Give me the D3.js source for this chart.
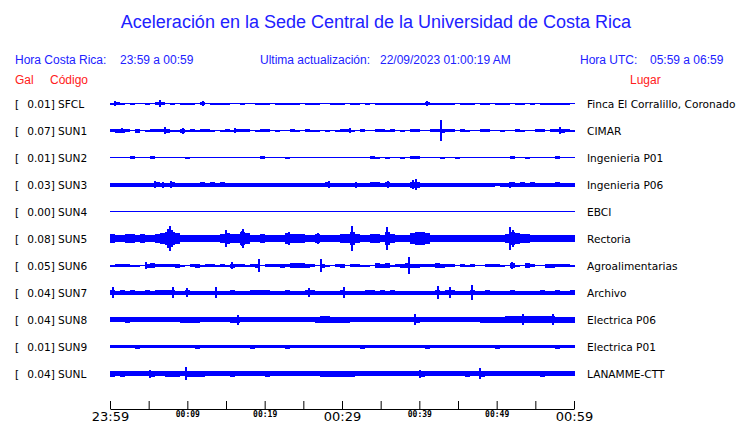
<!DOCTYPE html>
<html><head><meta charset="utf-8">
<script src="https://cdn.jsdelivr.net/npm/d3@7"></script>
<style>
html,body{margin:0;padding:0;background:#fff;}
svg{display:block;}
</style></head>
<body>
<svg id="chart" width="740" height="423"></svg>
<script>
// ---------- DATA ----------
const titleText = "Aceleración en la Sede Central de la Universidad de Costa Rica";
const codes = ["SFCL","SUN1","SUN2","SUN3","SUN4","SUN5","SUN6","SUN7","SUN8","SUN9","SUNL"];
const galValues = [0.01,0.07,0.01,0.03,0.00,0.08,0.05,0.04,0.04,0.01,0.04];
const places = ["Finca El Corralillo, Coronado","CIMAR","Ingenieria P01","Ingenieria P06","EBCI","Rectoria","Agroalimentarias","Archivo","Electrica P06","Electrica P01","LANAMME-CTT"];
const tickMinutes = [0,5,10,15,20,25,30,35,40,45,50,55,60];
const tickLabels = {0:"23:59",10:"00:09",20:"00:19",30:"00:29",40:"00:39",50:"00:49",60:"00:59"};
const majorLabels = [0,30,60];

// envelope amplitudes (half peak-to-peak) of the continuous signal, 93 slots over the hour
const ampSFCL = [0.5,1,0.5,0,0.5,0,0,0.5,0,1, 1,0,0.5,0,0.5,0.5,0.5,0,1,0, 0.5,0.5,0.5,0.5,0,0,0.5,0,0,0.5, 0.5,0.5,0,0.5,0.5,0.5,0.5,0.5,0,0.5, 0.5,0.5,0,0,0.5,0.5,0.5,0,0.5,0.5, 0,0.5,0,0.5,0.5,0.5,0.5,0.5,0.5,0.5, 0.5,0.5,0.5,1,0.5,0.5,0.5,0.5,0.5,0, 0.5,0.5,0.5,0,0.5,0.5,0,0.5,0.5,0.5, 0,0.5,0.5,0,0.5,0,0.5,0.5,0.5,0.5, 0.5,0.5,0];
const ampSUN1 = [1,1.5,1.5,1,0,1.5,0,0.5,1,1, 1,1.5,0.5,0.5,1.5,0.5,1,0.5,1,1, 0.5,0,0.5,1,0.5,1,1,1,0,0.5, 1,1,0,0.5,0,0,1,0.5,0,1, 0.5,0.5,0,0.5,0,0.5,1,1,0.5,0, 1,0,0,1,1,0.5,1,0,0.5,0, 1,1,0,0,1,1,1.5,1,1,0, 1,0.5,0,0,1,1,0,0,0.5,0, 0,1,0.5,0,0,1,1,0,1,1, 1.5,1,0.5];
const ampSUN2 = [0,0,0,0,1,0,0,0,1,0, 0,0,0,0,0,0.5,0,0,0,0, 0,0,0,0,0,0,0,0,0,0, 1,0,0,0,0,0.5,0,0,0,0, 0,0,0,0,0,0,0,0,0,0, 0,0,1,0.5,0,0.5,0,0,0.5,0, 1,1,0,0,0,0,0.5,0,0,0.5, 0,0,0,0,0,0,0,0,0,0, 1,0,0,0.5,0,0,0,0,0,1, 0,0,0];
const ampSUN3 = [1.5,1.5,1.5,1.5,1.5,1.5,1.5,1.5,1.5,2, 1.5,1.5,2,1.5,1.5,1.5,1.5,1.5,2,1.5, 2,1.5,2,1.5,1.5,1.5,1.5,1.5,1.5,1.5, 1.5,1.5,1.5,1.5,1.5,1.5,1.5,1.5,1.5,1.5, 1.5,1.5,1.5,2,1.5,1.5,1.5,1.5,1.5,1.5, 1.5,1.5,2,2,1.5,2,1.5,1.5,1.5,1.5, 2.5,2.5,1.5,1.5,1.5,1.5,1.5,1.5,1.5,1.5, 1.5,1.5,1.5,1.5,1.5,1.5,1.5,1,1.5,1.5, 2,1.5,2,1.5,2,1.5,1.5,1.5,1.5,2, 1.5,1.5,1.5];
const ampSUN4 = [0,0,0,0,0,0,0,0,0,0, 0,0,0,0,0,0,0,0,0,0, 0,0,0,0,0,0,0,0,0,0, 0,0,0,0,0,0,0,0,0,0, 0,0,0,0,0,0,0,0,0,0, 0,0,0,0,0,0,0,0,0,0, 0,0,0,0,0,0,0,0,0,0, 0,0,0,0,0,0,0,0,0,0, 0,0,0,0,0,0,0,0,0,0, 0,0,0];
const ampSUN5 = [4,3,3,4,4,3,4,3,3,4, 5,6,6,5,3,3,3,3,3,3, 3,3,4,5,4,4,6,5,3,3, 4,3,3,3,3,5,4,4,4,3, 3,4,3,3,3,3,4,4,6,4, 3,3,4,4,3,6,4,3,3,3, 5,6,6,5,3,3,3,3,3,3, 3,3,3,3,3,3,3,3,3,4, 6,5,4,4,3,3,3,3,3,3, 3,3,3];
const ampSUN6 = [0.5,1,1,1,0.5,0.5,0,1.5,2,1, 1,1,1,1.5,0.5,0,1,1.5,0.5,1, 1,0.5,1,0.5,1.5,1,1,0.5,1,1.5, 0,1,1,1,1.5,1,2,2,2,1.5, 1,0,1.5,0.5,0,1,1.5,0,1,1, 0.5,0.5,0,2,1.5,2,0.5,1,1.5,2, 1.5,1.5,1,1,1,2,1.5,1,1,0, 1,0.5,1,0,0,1,1,1,0.5,0, 2,0.5,0,2,1,0,0,1.5,1.5,1, 1,1,0.5];
const ampSUN7 = [2,1.5,2,1.5,2,1.5,1.5,2,1.5,2, 2,2,2,1.5,1.5,2,1.5,1.5,1.5,1.5, 1.5,1.5,1.5,1.5,2,1.5,1.5,1.5,2,2, 2,2,1.5,1.5,1.5,2,1.5,1.5,1.5,2, 2,1.5,1.5,1.5,1.5,1.5,2,1.5,1.5,1.5, 1.5,2,2,1.5,2,1.5,2,1.5,1.5,1.5, 1.5,1.5,1.5,1.5,1.5,2,1.5,2,2,1.5, 1.5,1.5,2,1.5,1.5,2,1.5,1.5,1.5,1.5, 2,1.5,1.5,1.5,1.5,1.5,2,1.5,1.5,2, 1.5,1.5,2];
const ampSUN8 = [2,2,2,2.5,2,2,2,2,2,2, 2,2,2,2,2.5,2.5,2.5,2.5,2,2, 2,2,2,2,2.5,2.5,2,2,2,2, 2,2,2,2,2,2,2,2,2,2, 2,2.5,3,3,2.5,2.5,2.5,2.5,2,2, 2,2,2,2,2,2,2,2,2,2, 2,2.5,2,2,2,2,2,2,2,2, 2,2,2,2,2.5,2.5,2.5,2.5,2.5,3, 3,3,3,3,3,3,3,3,3,2.5, 2.5,2.5,2.5];
const ampSUN9 = [1,1,1,1,1,1.5,1,1,1,1, 1,1,1,1,1,1,1,1.5,1,1, 1,1,1,1,1,1,1,1,1.5,1, 1,1,1,1,1,1.5,1,1,1,1, 1,1,1,1,1,1,1,1,1,1, 1.5,1,1,1,1,1,1,1,1,1, 1,1,1,1.5,1,1,1,1,1,1, 1,1,1,1,1,1,1,1.5,1,1, 1,1,1,1,1,1,1,1,1,1.5, 1,1,1];
const ampSUNL = [2.5,2,2.5,2,2,2,2,2,2.5,2, 2,2.5,2.5,2.5,2,2.5,2.5,2.5,2.5,2, 2,2,2,2,2.5,2,2,2,2,2, 2,2.5,2,2,2,2,2,2,2,2, 2,2,2.5,2.5,2.5,2.5,2.5,2.5,2.5,2, 2,2,2,2,2,2,2,2,2,2, 2,2,2.5,2,2,2,2,2,2,2, 2,2.5,2,2,2.5,2,2,2,2,2, 2,2,2,2,2,2,2.5,2,2,2, 2,2,2];

// narrow peaks: [minute after 23:59, half peak-to-peak amplitude]
const peaksSFCL = [[0.65,2],[6.45,3],[12.0,2],[40.9,2]];
const peaksSUN1 = [[1.5,2],[7.1,3],[9.4,2.5],[16.1,2],[31.0,2],[42.7,10],[58.1,3]];
const peaksSUN2 = [];
const peaksSUN3 = [[5.8,3],[6.8,2.5],[7.9,3],[28.3,3],[31.7,2.5],[35.9,3],[39.1,4],[39.5,5],[51.6,2.5]];
const peaksSUN4 = [];
const peaksSUN5 = [[7.5,9],[7.7,12],[8.0,8],[15.0,8],[17.0,7],[17.2,9],[23.1,6],[26.8,5],[31.2,12],[35.7,11],[51.6,11],[52.0,8]];
const peaksSUN6 = [[4.6,3],[15.7,3],[19.2,6],[27.2,6],[38.6,8],[51.9,3]];
const peaksSUN7 = [[0.4,5],[8.1,5],[9.9,4],[13.7,5],[25.7,4],[30.2,5],[42.3,6],[43.9,5],[46.7,7]];
const peaksSUN8 = [[16.5,4.5],[39.4,5],[53.3,5],[57.2,5]];
const peaksSUN9 = [];
const peaksSUNL = [[5.2,3.5],[9.8,6],[40.0,3.5],[47.7,5]];

// ---------- CHART ----------
const traces = [ampSFCL,ampSUN1,ampSUN2,ampSUN3,ampSUN4,ampSUN5,ampSUN6,ampSUN7,ampSUN8,ampSUN9,ampSUNL];
const peaks = [peaksSFCL,peaksSUN1,peaksSUN2,peaksSUN3,peaksSUN4,peaksSUN5,peaksSUN6,peaksSUN7,peaksSUN8,peaksSUN9,peaksSUNL];
const stations = codes.map((c,i)=>({code:c, gal:galValues[i], place:places[i], amp:traces[i], peaks:peaks[i]}));

const svg = d3.select("#chart");
const blue = "#2121ff", red = "#ff2020", traceColor = "#0000ff";
const sans = "'Liberation Sans', Arial, sans-serif";
const dv = "'DejaVu Sans', sans-serif";

svg.append("text").attr("x",376).attr("y",28).attr("text-anchor","middle")
  .attr("fill",blue).style("font-family",sans).style("font-size","18px").text(titleText);

const header = [
  {x:15,  y:64, t:"Hora Costa Rica:", c:blue},
  {x:120, y:64, t:"23:59 a 00:59", c:blue},
  {x:260, y:64, t:"Ultima actualización:", c:blue},
  {x:380, y:64, t:"22/09/2023 01:00:19 AM", c:blue},
  {x:580, y:64, t:"Hora UTC:", c:blue},
  {x:650, y:64, t:"05:59 a 06:59", c:blue},
  {x:15,  y:84, t:"Gal", c:red},
  {x:50,  y:84, t:"Código", c:red},
  {x:630, y:84, t:"Lugar", c:red}
];
svg.selectAll("text.hdr").data(header).join("text").attr("class","hdr")
  .attr("x",d=>d.x).attr("y",d=>d.y).attr("fill",d=>d.c)
  .style("font-family",sans).style("font-size","12px").text(d=>d.t);

const x0 = 110, x1 = 575;
const yRow = d3.scalePoint().domain(codes).range([103.5, 373.5]);
const xTrace = d3.scaleLinear().domain([0, 60]).range([x0, x1]);
const yAmp = d3.scaleLinear().domain([0, 1]).range([0, 1]);

const rows = svg.selectAll("g.row").data(stations).join("g").attr("class","row")
  .attr("transform", d=>`translate(0,${yRow(d.code)})`);

const lbl = sel => sel.style("font-family",dv).style("font-size","10.6px").attr("fill","#000");
rows.append("text").attr("x",15).attr("y",4).call(lbl).text("[");
rows.append("text").attr("x",55).attr("y",4).attr("text-anchor","end").call(lbl).text(d=>d.gal.toFixed(2)+"]");
rows.append("text").attr("x",58).attr("y",4).call(lbl).text(d=>d.code);
rows.append("text").attr("x",587).attr("y",4).call(lbl).text(d=>d.place);

rows.append("rect").attr("x",x0).attr("width",x1-x0).attr("y",-0.5).attr("height",1).attr("fill",traceColor);
rows.each(function(d){
  const g = d3.select(this);
  const n = d.amp.length;
  const tOf = i => i*60/n;
  g.selectAll("rect.bin").data(d.amp).join("rect").attr("class","bin")
    .attr("x",(a,i)=>Math.round(xTrace(tOf(i)))).attr("width",(a,i)=>Math.round(xTrace(tOf(i+1)))-Math.round(xTrace(tOf(i))))
    .attr("y",a=>-yAmp(a)-0.5).attr("height",a=>2*yAmp(a)+1)
    .attr("fill",traceColor).attr("shape-rendering","crispEdges");
  g.selectAll("rect.peak").data(d.peaks).join("rect").attr("class","peak")
    .attr("x",p=>Math.round(xTrace(p[0]))-1).attr("width",2)
    .attr("y",p=>-yAmp(p[1])-0.5).attr("height",p=>2*yAmp(p[1])+1)
    .attr("fill",traceColor).attr("shape-rendering","crispEdges");
});

// time axis
const xTime = d3.scaleLinear().domain([0,60]).range([110,574]);
const axis = d3.axisBottom(xTime).tickValues(tickMinutes).tickSizeInner(-8).tickSizeOuter(0)
  .tickFormat(m => tickLabels[m] || "");
const ag = svg.append("g").attr("transform","translate(0,409)").call(axis);
ag.select(".domain").attr("stroke","#000");
ag.selectAll(".tick line").attr("stroke","#000");
ag.selectAll(".tick text").attr("fill","#000").attr("dy",null)
  .each(function(m){
    const big = majorLabels.includes(m);
    d3.select(this).attr("y", big ? 12 : 8)
      .style("font-family", big ? dv : "'DejaVu Sans Mono', monospace")
      .style("font-weight", big ? "normal" : "bold")
      .style("font-size", big ? "13px" : "8px");
  });
</script>
</body></html>
